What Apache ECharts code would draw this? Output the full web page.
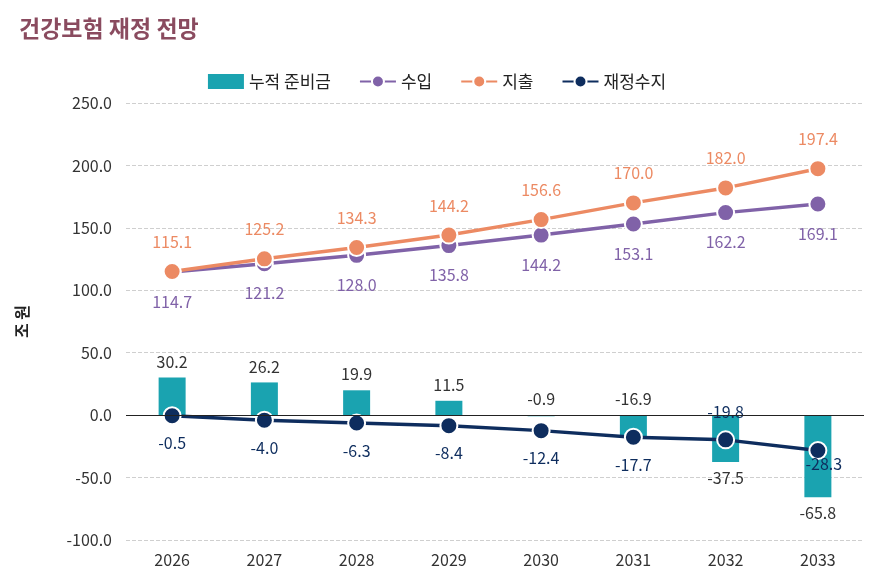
<!DOCTYPE html>
<html>
<head>
<meta charset="utf-8">
<script src="https://cdn.jsdelivr.net/npm/echarts@6/dist/echarts.min.js"></script>
<style>
  html, body { margin: 0; padding: 0; background: #fff; }
  #chart { width: 874px; height: 576px; }
</style>
</head>
<body>
<div id="chart"></div>
<script>
const years = ['2026', '2027', '2028', '2029', '2030', '2031', '2032', '2033'];
const reserve = [30.2, 26.2, 19.9, 11.5, -0.9, -16.9, -37.5, -65.8];
const income = [114.7, 121.2, 128.0, 135.8, 144.2, 153.1, 162.2, 169.1];
const expense = [115.1, 125.2, 134.3, 144.2, 156.6, 170.0, 182.0, 197.4];
const balance = [-0.5, -4.0, -6.3, -8.4, -12.4, -17.7, -19.8, -28.3];
const yTicks = [-100, 250, 50];

const font = "'Noto Sans CJK KR', 'Noto Sans', sans-serif";
const chart = echarts.init(document.getElementById('chart'));
const fmt = p => Number(p.value).toFixed(1);

// 라벨 위치: 음수 막대 중 뒤쪽 두 개는 아래로
const reserveData = reserve.map((v, i) => ({
    value: v,
    label: { position: (v >= 0 || i < 6) ? 'top' : 'bottom' }
}));
const balanceData = balance.map((v, i) => ({
    value: v,
    label: i === 6 ? { position: 'top' } : (i === 7 ? { position: 'bottom', offset: [6, -14] } : {})
}));

const option = {
    textStyle: { fontFamily: font },
    title: {
        text: '건강보험 재정 전망',
        left: 14, top: 12,
        textStyle: { fontSize: 23, fontWeight: 'bold', color: '#8a4b5f', fontFamily: font }
    },
    legend: {
        top: 68, left: 'center',
        itemGap: 28, itemWidth: 36, itemHeight: 15,
        textStyle: { fontSize: 17, color: '#222', fontFamily: font },
        data: [
            { name: '누적 준비금', icon: 'rect', itemStyle: { color: '#1aa3b0' } },
            { name: '수입' }, { name: '지출' }, { name: '재정수지' }
        ]
    },
    grid: { left: 126, right: 10, top: 103, bottom: 36 },
    xAxis: {
        type: 'category',
        data: years,
        axisLine: { show: false, onZero: false },
        axisTick: { show: false },
        axisLabel: { fontSize: 16, color: '#333', margin: 12 }
    },
    yAxis: {
        type: 'value',
        min: yTicks[0], max: yTicks[1], interval: yTicks[2],
        name: '조 원',
        nameLocation: 'middle',
        nameGap: 96,
        nameRotate: 90,
        nameTextStyle: { fontSize: 16, fontWeight: 'bold', color: '#222' },
        axisLabel: { fontSize: 16, color: '#333', formatter: v => v.toFixed(1), margin: 14 },
        splitLine: { lineStyle: { type: 'dashed', color: '#cfcfcf' } }
    },
    series: [
        {
            name: '누적 준비금', type: 'bar', data: reserveData, barWidth: 27,
            itemStyle: { color: '#1aa3b0' },
            label: { show: true, fontSize: 16, color: '#333', distance: 8, formatter: fmt },
            markLine: {
                silent: true, symbol: 'none', label: { show: false },
                lineStyle: { type: 'solid', color: '#222', width: 1.2 },
                data: [{ yAxis: 0 }]
            }
        },
        {
            name: '수입', type: 'line', data: income,
            symbol: 'circle', symbolSize: 17,
            lineStyle: { color: '#8062a8', width: 3.5 },
            itemStyle: { color: '#8062a8', borderColor: '#fff', borderWidth: 2 },
            label: { show: true, position: 'bottom', distance: 12, fontSize: 16, color: '#8062a8', formatter: fmt }
        },
        {
            name: '지출', type: 'line', data: expense,
            symbol: 'circle', symbolSize: 17,
            lineStyle: { color: '#ec8a63', width: 3.5 },
            itemStyle: { color: '#ec8a63', borderColor: '#fff', borderWidth: 2 },
            label: { show: true, position: 'top', distance: 12, fontSize: 16, color: '#ec8a63', formatter: fmt }
        },
        {
            name: '재정수지', type: 'line', data: balanceData,
            symbol: 'circle', symbolSize: 17,
            lineStyle: { color: '#0e2d5e', width: 3.5 },
            itemStyle: { color: '#0e2d5e', borderColor: '#fff', borderWidth: 2 },
            label: { show: true, position: 'bottom', distance: 10, fontSize: 16, color: '#0e2d5e', formatter: fmt }
        }
    ]
};
chart.setOption(option);
</script>
</body>
</html>
